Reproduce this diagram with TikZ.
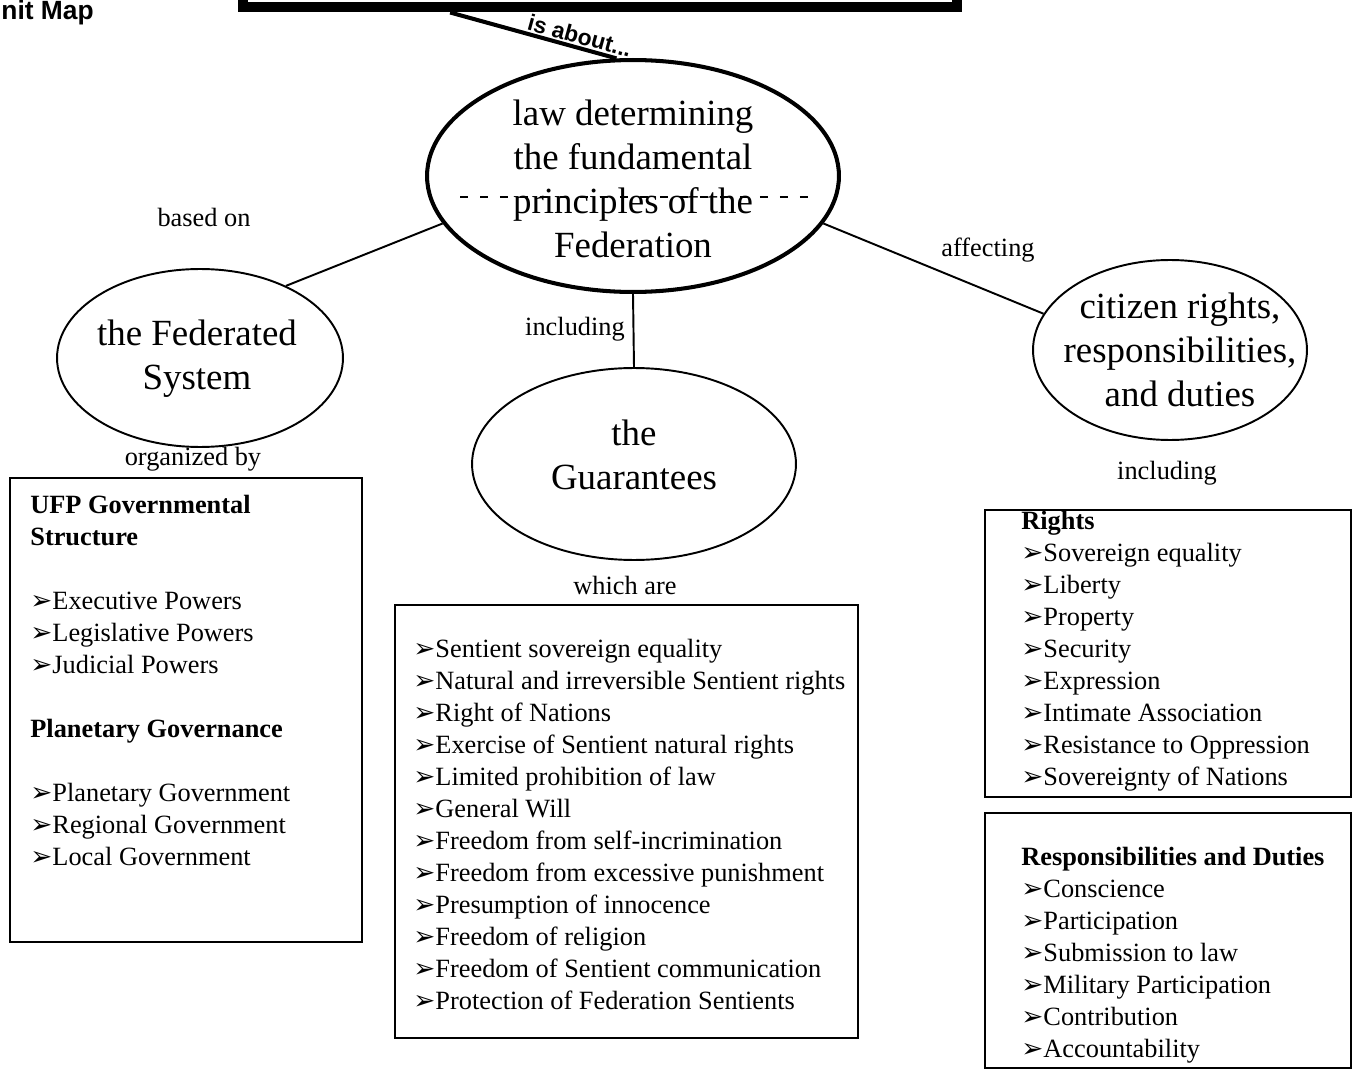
\documentclass[tikz,border=0pt]{standalone}
\usepackage{fontspec}
\setmainfont{Liberation Serif}
\newfontfamily\headfont{Liberation Sans}
\newfontfamily\arrowfont{DejaVu Sans}
\usetikzlibrary{shapes.geometric,calc,fit}
\newcommand{\chev}{{\arrowfont\fontsize{15pt}{15pt}\selectfont ➢}}
\tikzset{
  oval/.style={draw, ellipse, line width=1.1pt, inner sep=0pt},
  bigoval/.style={oval, line width=2.3pt},
  ovaltext/.style={align=center, inner sep=0pt, font=\fontsize{21pt}{24.9pt}\selectfont},
  topbox/.style={draw, line width=5.7pt, inner sep=0pt},
  aboutline/.style={line width=2.3pt},
  aboutlabel/.style={font=\headfont\bfseries\fontsize{13pt}{15pt}\selectfont, inner sep=1pt},
  linkline/.style={line width=1.1pt},
  linklabel/.style={inner sep=0pt, font=\fontsize{15pt}{18.2pt}\selectfont},
  listbox/.style={draw, line width=1.5pt, inner sep=0pt},
  listtext/.style={align=left, anchor=north west, inner sep=0pt, font=\fontsize{15pt}{18.2pt}\selectfont},
}

\begin{document}
\begin{tikzpicture}[x=0.02cm, y=-0.02cm]
  \useasboundingbox (0,0) rectangle (1353,1071);

  \node[anchor=base east, inner sep=0pt, font=\headfont\bfseries\fontsize{15pt}{17pt}\selectfont] (unit) at (94,20) {nit Map};
  \node[topbox, minimum width=14.28cm, minimum height=2.3cm] (topic) at (600,-50) {};

  % the four ovals
  \node[bigoval, minimum width=8.24cm, minimum height=4.64cm] (law) at (633,176) {};
  \node[ovaltext] (lawtext) at (633,179) {law determining\\the fundamental\\principles of the\\Federation};
  \draw[line width=0.7pt, dash pattern=on 0.16cm off 0.24cm] (460,197) -- (818,197);

  \node[oval, minimum width=5.72cm, minimum height=3.56cm] (fed) at (200,358) {};
  \node[ovaltext] (fedtext) at (197,359) {the Federated\\System};

  \node[oval, minimum width=6.48cm, minimum height=3.84cm] (guar) at (634,464) {};
  \node[ovaltext] (guartext) at (634,455) {the\\Guarantees};

  \node[oval, minimum width=5.48cm, minimum height=3.6cm] (cit) at (1170,350) {};
  \node[ovaltext] (cittext) at (1180,350) {citizen rights,\\responsibilities,\\and duties};

  \draw[aboutline] ($(topic.south west)!0.293!(topic.south east)$) -- node[sloped, above, pos=0.76, aboutlabel] (aboutlbl) {is about...} (law.98);
  \draw[linkline] (law.194) -- (fed.40);
  \draw[linkline] (law.south) -- (guar.north);
  \draw[linkline] (law.346) -- (cit.164);

  \node[linklabel] (basedlbl) at (204,217) {based on};
  \node[linklabel] (inclmid) at (575,329) {including};
  \node[linklabel] (affectlbl) at (988,250) {affecting};
  \node[linklabel] (orglbl) at (193,459) {organized by};
  \node[linklabel] (whichlbl) at (625,585) {which are};
  \node[linklabel] (inclright) at (1167,473) {including};

  % list boxes
  \node[listbox, fit={(10,478) (362,942)}] (govbox) {};
  \node[listtext] (govlist) at (30,495) {\textbf{UFP Governmental}\\
    \textbf{Structure}\\[18.2pt]
    \chev Executive Powers\\
    \chev Legislative Powers\\
    \chev Judicial Powers\\[18.2pt]
    \textbf{Planetary Governance}\\[18.2pt]
    \chev Planetary Government\\
    \chev Regional Government\\
    \chev Local Government};

  \node[listbox, fit={(395,605) (858,1038)}] (guarbox) {};
  \node[listtext] (guarlist) at (413,639) {\chev Sentient sovereign equality\\
    \chev Natural and irreversible Sentient rights\\
    \chev Right of Nations\\
    \chev Exercise of Sentient natural rights\\
    \chev Limited prohibition of law\\
    \chev General Will\\
    \chev Freedom from self-incrimination\\
    \chev Freedom from excessive punishment\\
    \chev Presumption of innocence\\
    \chev Freedom of religion\\
    \chev Freedom of Sentient communication\\
    \chev Protection of Federation Sentients};

  \node[listbox, fit={(985,510) (1351,797)}] (rightsbox) {};
  \node[listtext] (rightslist) at (1021,511) {\textbf{Rights}\\
    \chev Sovereign equality\\
    \chev Liberty\\
    \chev Property\\
    \chev Security\\
    \chev Expression\\
    \chev Intimate Association\\
    \chev Resistance to Oppression\\
    \chev Sovereignty of Nations};

  \node[listbox, fit={(985,813) (1351,1068)}] (dutybox) {};
  \node[listtext] (dutylist) at (1021,847) {\textbf{Responsibilities and Duties}\\
    \chev Conscience\\
    \chev Participation\\
    \chev Submission to law\\
    \chev Military Participation\\
    \chev Contribution\\
    \chev Accountability};
\end{tikzpicture}
\end{document}
